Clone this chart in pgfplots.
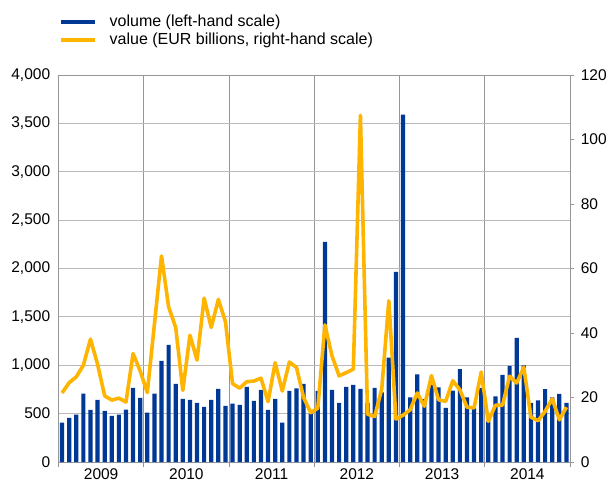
\documentclass[border=0pt]{standalone}
\usepackage{fontspec}
\setmainfont{Liberation Sans}
\usepackage{pgfplots}
\usepackage{pgfplotstable}
\pgfplotsset{compat=1.18}
\definecolor{ecbblue}{RGB}{0,56,150}
\definecolor{ecbyellow}{RGB}{255,180,0}
\definecolor{gridgray}{RGB}{185,185,185}
\definecolor{axisgray}{RGB}{150,150,150}

\pgfplotstableread{
i vol val
0 407 21.4
1 455 24.6
2 490 26.4
3 707 30.0
4 538 38.1
5 641 30.3
6 528 20.5
7 476 19.2
8 490 19.8
9 541 18.6
10 766 33.6
11 662 28.2
12 510 21.5
13 707 42.7
14 1045 63.9
15 1210 48.1
16 807 41.7
17 652 22.2
18 641 39.3
19 610 31.6
20 569 50.8
21 641 41.7
22 755 50.4
23 579 43.5
24 603 24.3
25 590 22.9
26 776 24.9
27 631 25.1
28 745 26.0
29 538 18.7
30 652 30.8
31 407 22.0
32 734 31.0
33 762 29.3
34 807 20.0
35 503 15.3
36 734 16.7
37 2276 42.5
38 745 32.9
39 610 26.7
40 776 27.7
41 797 28.8
42 755 107.5
43 610 14.8
44 766 14.1
45 720 22.6
46 1079 50.0
47 1966 13.3
48 3590 14.5
49 669 16.2
50 907 21.4
51 650 17.3
52 800 26.8
53 772 19.3
54 559 18.8
55 738 25.2
56 959 22.4
57 669 17.0
58 560 16.8
59 766 27.9
60 420 12.6
61 679 17.6
62 900 17.6
63 993 26.6
64 1283 24.5
65 1000 29.4
66 610 13.9
67 638 12.8
68 752 15.7
69 669 19.6
70 703 13.1
71 610 17.0
}\datatable

\begin{document}
\fontsize{15.5}{18}\selectfont
\begin{tikzpicture}
\useasboundingbox (0,0) rectangle (609pt,488pt);
\begin{axis}[
  at={(58.5pt,26pt)}, anchor=south west, scale only axis,
  width=511.5pt, height=387pt,
  xmin=-0.5, xmax=71.5, ymin=0, ymax=4000,
  ytick={0,500,...,4000},
  scaled y ticks=false,
  ymajorgrids, grid style={gridgray, line width=0.9pt},
  axis line style={axisgray, line width=0.9pt},
  xtick={5.5,17.5,29.5,41.5,53.5,65.5},
  xticklabels={2009,2010,2011,2012,2013,2014},
  minor xtick={-0.5,11.5,23.5,35.5,47.5,59.5,71.5},
  xminorgrids, minor grid style={axisgray, line width=0.9pt},
  major tick length=0pt, minor tick length=5pt,
  tick align=outside, xtick pos=bottom, ytick pos=left,
  tick style={axisgray, line width=0.9pt},
  /pgf/number format/assume math mode=true,
  /pgf/number format/1000 sep={,},
  yticklabel style={xshift=-3pt},
  xticklabel style={yshift=-1pt},
  legend cell align=left,
  legend style={at={(0,1.155)}, anchor=north west, draw=none, fill=none,
    inner sep=0pt, row sep=3.6pt, column sep=13pt,
    nodes={inner sep=0pt}, font=\fontsize{16}{19}\selectfont},
  legend image code/.code={\draw[#1, line width=4pt] (0pt,0pt) -- (34pt,0pt);},
]
\addplot[ybar, fill=ecbblue, draw=none, bar width=4.2pt, forget plot] table[x=i,y=vol]{\datatable};
\addlegendimage{ecbblue}
\addlegendentry{volume (left-hand scale)}
\addlegendimage{ecbyellow}
\addlegendentry{value (EUR billions, right-hand scale)}
\end{axis}
\begin{axis}[
  at={(58.5pt,26pt)}, anchor=south west, scale only axis,
  width=511.5pt, height=387pt,
  xmin=-0.5, xmax=71.5, ymin=0, ymax=120,
  ytick={0,20,...,120},
  xtick=\empty,
  axis line style={draw=none},
  ytick pos=right, tick align=outside, major tick length=3.5pt,
  tick style={axisgray, line width=0.9pt},
  /pgf/number format/assume math mode=true,
  yticklabel style={xshift=2pt},
]
\addplot[ecbyellow, line width=3.6pt, line join=round] table[x=i,y=val]{\datatable};
\end{axis}
\end{tikzpicture}
\end{document}
